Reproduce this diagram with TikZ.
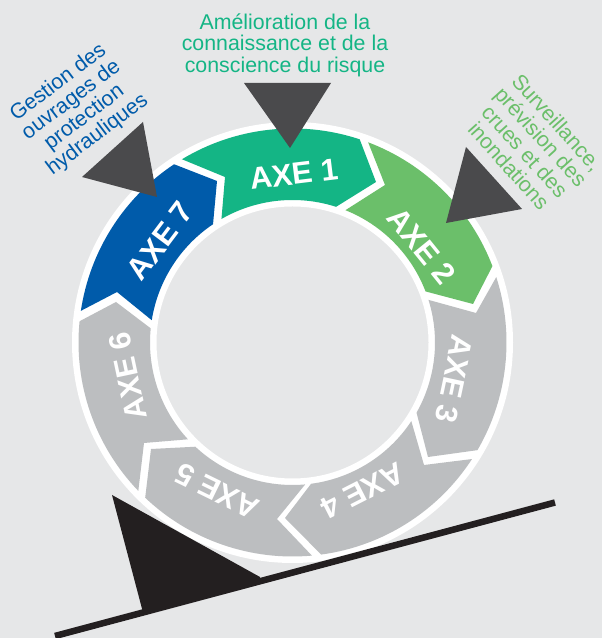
\documentclass[tikz,border=0pt]{standalone}
\usepackage{fontspec}
\setmainfont{Liberation Sans}
\definecolor{bgc}{HTML}{E6E7E8}
\definecolor{axeA}{HTML}{14B585}
\definecolor{axeB}{HTML}{6BBF6A}
\definecolor{axeG}{HTML}{005BAA}
\definecolor{axeN}{HTML}{BCBEC0}
\definecolor{darkc}{HTML}{4A4A4C}
\definecolor{blackc}{HTML}{231F20}
\newcommand{\Ro}{214}
\newcommand{\Ri}{142.5}
% colour, outer start, outer end, tip, inner end, inner start, notch
\newcommand{\axeseg}[7]{%
  \fill[#1] ([shift={(#2:\Ro)}]c) arc[start angle=#2,end angle=#3,radius=\Ro]
    -- (#4) -- ([shift={(#5:\Ri)}]c) arc[start angle=#5,end angle=#6,radius=\Ri]
    -- (#7) -- cycle;}
\tikzset{
  axelabel/.style={text=white,font=\bfseries\fontsize{23}{25}\selectfont,inner sep=0pt},
  caption/.style={align=center,inner sep=0pt,font=\fontsize{16}{16.2}\selectfont},
  pointer/.style={fill=darkc}
}
\begin{document}
\begin{tikzpicture}[x=0.75pt,y=0.75pt]
\useasboundingbox (0,0) rectangle (602,638);
\fill[bgc] (0,0) rectangle (602,638);
\coordinate (c) at (292.5,295.5);
% white ring
\fill[white,even odd rule] (c) circle[radius=220.5] (c) circle[radius=136];
% segments
\axeseg{axeN}{17.8}{-30.2}{428,181}{-29.5}{17.4}{476,325}
\axeseg{axeN}{-33}{-82.3}{285,120}{-82.5}{-33.5}{424,173}
\axeseg{axeN}{-84.8}{-133.5}{151,189}{-133}{-84.9}{277,119}
\axeseg{axeN}{-136.1}{-185.7}{116,336}{-185.7}{-137.2}{144,195}
\axeseg{axeG}{171.5}{123.6}{217,457}{123.9}{171}{117,346}
\axeseg{axeA}{121.1}{71.7}{376,456}{72.2}{119.9}{225,461}
\axeseg{axeB}{69.3}{20.9}{473,334}{21}{68.2}{385,453}
% labels on ring
\node[axelabel,rotate=7] (a1) at (294,464) {AXE 1};
\node[axelabel,rotate=-51] (a2) at (422,392) {AXE 2};
\node[axelabel,rotate=-102] (a3) at (454,259) {AXE 3};
\node[axelabel,rotate=-153] (a4) at (363,147) {AXE 4};
\node[axelabel,rotate=154] (a5) at (217,147) {AXE 5};
\node[axelabel,rotate=102] (a6) at (128,262) {AXE 6};
\node[axelabel,rotate=53] (a7) at (160,397) {AXE 7};
% pointers
\fill[pointer] (244,555) -- (331,555) -- (290,490) -- cycle;
\fill[pointer] (143,516) -- (82,461) -- (157,441) -- cycle;
\fill[pointer] (466,491) -- (522,429) -- (446,415) -- cycle;
% ramp
\coordinate (rampL) at (55,2);
\coordinate (rampR) at (555,135.5);
\draw[blackc,line width=4.9pt] (rampL) -- (rampR);
\fill[blackc] (112,143) -- (143,25.5) -- (260,56.7) -- (260,61) -- cycle;
% captions
\node[caption,text=axeA] (t1) at (285,593) {Amélioration de la\\connaissance et de la\\conscience du risque};
\node[caption,text=axeB,rotate=-48] (t2) at (533,494) {Surveillance,\\prévision des\\crues et des\\inondations};
\node[caption,text=axeG,rotate=37] (t7) at (78,529) {Gestion des\\ouvrages de\\protection\\hydrauliques};
\end{tikzpicture}
\end{document}
